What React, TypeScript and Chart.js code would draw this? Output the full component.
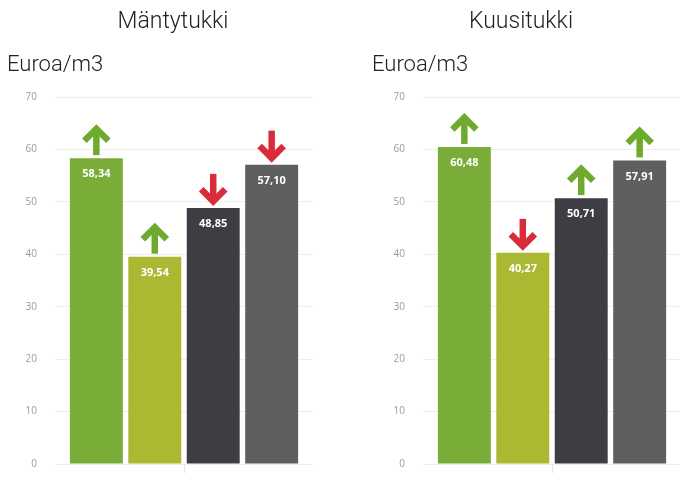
import React, { useEffect, useRef } from "react";
import { Chart, registerables } from "chart.js";

Chart.register(...registerables);

// ---- data ----
const categories = ["Mäntytukki", "Kuusitukki"];
const mantyValues = [58.34, 39.54, 48.85, 57.1];
const kuusiValues = [60.48, 40.27, 50.71, 57.91];
const mantyTrend = ["up", "up", "down", "down"];
const kuusiTrend = ["up", "down", "up", "up"];
const yTicks = [0, 10, 20, 30, 40, 50, 60, 70];
const unitLabel = "Euroa/m3";

// ---- styles ----
const barColors = ["#7aac38", "#aab832", "#3e3d43", "#5f5f5f"];
const upColor = "#6eaa2e";
const downColor = "#d92c3a";

const fmt = (v: number) => v.toFixed(2).replace(".", ",");

function makeOverlay(trends: string[]) {
  return {
    id: "overlay",
    afterDatasetsDraw(chart: any) {
      const ctx = chart.ctx as CanvasRenderingContext2D;
      ctx.save();
      chart.data.datasets.forEach((ds: any, i: number) => {
        const meta = chart.getDatasetMeta(i);
        const bar: any = meta.data[0];
        if (!bar) return;
        const x = bar.x;
        const y = bar.y;
        // value label
        ctx.fillStyle = "#ffffff";
        ctx.font = "bold 11px 'Open Sans'";
        ctx.textAlign = "center";
        ctx.textBaseline = "middle";
        ctx.fillText(fmt(ds.data[0]), x, y + 16);
        // arrow
        const up = trends[i] === "up";
        ctx.strokeStyle = up ? upColor : downColor;
        ctx.lineWidth = 6.5;
        ctx.lineJoin = "miter";
        ctx.lineCap = "butt";
        const arm = 12;
        const miter = 4.6;
        if (up) {
          const bottom = y - 3;
          const tipOuter = y - 34;
          const apex = tipOuter + miter;
          ctx.beginPath();
          ctx.moveTo(x, bottom);
          ctx.lineTo(x, apex + 3);
          ctx.stroke();
          ctx.beginPath();
          ctx.moveTo(x - arm, apex + arm);
          ctx.lineTo(x, apex);
          ctx.lineTo(x + arm, apex + arm);
          ctx.stroke();
        } else {
          const top = y - 34;
          const tipOuter = y - 2;
          const apex = tipOuter - miter;
          ctx.beginPath();
          ctx.moveTo(x, top);
          ctx.lineTo(x, apex - 3);
          ctx.stroke();
          ctx.beginPath();
          ctx.moveTo(x - arm, apex - arm);
          ctx.lineTo(x, apex);
          ctx.lineTo(x + arm, apex - arm);
          ctx.stroke();
        }
      });
      ctx.restore();
    },
  };
}

function BarPanel({ category, values, trends, left }: { category: string; values: number[]; trends: string[]; left: number }) {
  const ref = useRef<HTMLCanvasElement | null>(null);
  useEffect(() => {
    if (!ref.current) return;
    const chart = new Chart(ref.current, {
      type: "bar",
      data: {
        labels: [category],
        datasets: values.map((v, i) => ({
          data: [v],
          backgroundColor: barColors[i],
          categoryPercentage: 0.906,
          barPercentage: 0.906,
        })),
      },
      options: {
        responsive: false,
        animation: false,
        devicePixelRatio: 1,
        layout: { padding: { top: 97, bottom: 1, left: 0, right: 27 } },
        plugins: { legend: { display: false }, tooltip: { enabled: false } },
        scales: {
          x: {
            grid: {
              display: true,
              offset: false,
              drawOnChartArea: false,
              drawTicks: true,
              tickLength: 9,
              color: "#e4e4e4",
            },
            ticks: { display: false },
            border: { display: false },
          },
          y: {
            min: yTicks[0],
            max: yTicks[yTicks.length - 1],
            ticks: {
              stepSize: yTicks[1] - yTicks[0],
              padding: 18,
              color: "#9a9a9a",
              font: { family: "'Open Sans'", size: 10 },
            },
            grid: { color: "#eeeeee", drawTicks: false },
            border: { display: false },
            afterFit: (s: any) => {
              s.width = 55;
            },
          },
        },
      },
      plugins: [makeOverlay(trends)],
    } as any);
    return () => chart.destroy();
  }, []);
  return (
    <canvas
      ref={ref}
      width={340}
      height={488}
      style={{ position: "absolute", left, top: 0, width: 340, height: 488 }}
    />
  );
}

const textStyle: React.CSSProperties = {
  position: "absolute",
  fontFamily: "Roboto, 'Open Sans', sans-serif",
  fontWeight: 300,
  color: "#222",
  whiteSpace: "nowrap",
};

export default function App() {
  return (
    <div
      style={{
        position: "fixed",
        left: 0,
        top: 0,
        width: 680,
        height: 488,
        overflow: "hidden",
        background: "#fff",
      }}
    >
      <BarPanel category={categories[0]} values={mantyValues} trends={mantyTrend} left={0} />
      <BarPanel category={categories[1]} values={kuusiValues} trends={kuusiTrend} left={368} />
      <div style={{ ...textStyle, fontSize: 23, lineHeight: "23px", left: 73, width: 200, top: 9, textAlign: "center" }}>{categories[0]}</div>
      <div style={{ ...textStyle, fontSize: 23, lineHeight: "23px", left: 421, width: 200, top: 9, textAlign: "center" }}>{categories[1]}</div>
      <div style={{ ...textStyle, fontSize: 22, lineHeight: "22px", left: 7, top: 53 }}>{unitLabel}</div>
      <div style={{ ...textStyle, fontSize: 22, lineHeight: "22px", left: 372, top: 53 }}>{unitLabel}</div>
    </div>
  );
}
